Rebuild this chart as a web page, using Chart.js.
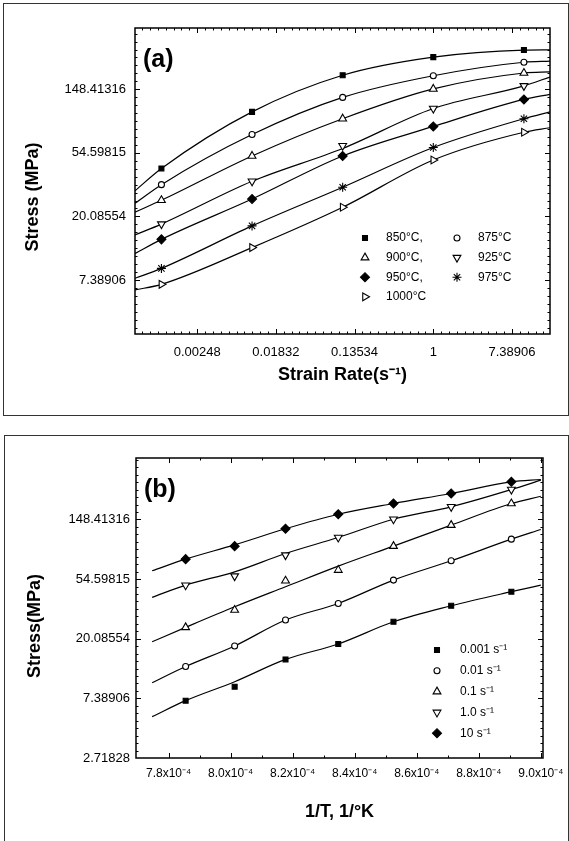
<!DOCTYPE html>
<html>
<head>
<meta charset="utf-8">
<title>Flow stress vs strain rate and inverse temperature</title>
<script src="https://cdn.jsdelivr.net/npm/chart.js@4.4.0/dist/chart.umd.min.js"></script>
<style>
    html, body { margin: 0; padding: 0; background: #fff; }
    #page { position: relative; width: 569px; height: 841px; overflow: hidden; }
    .panel { position: absolute; border: 1px solid #333; box-sizing: border-box; }
    #panelA { left: 3px; top: 3px; width: 566px; height: 413px; }
    #panelB { left: 4px; top: 435px; width: 565px; height: 430px; }
    canvas { position: absolute; left: 0; }
    #chartA { top: 0; }
    #chartB { top: 420px; }
</style>
</head>
<body>
<div id="page">
    <div class="panel" id="panelA"></div>
    <div class="panel" id="panelB"></div>
    <canvas id="chartA" width="569" height="420"></canvas>
    <canvas id="chartB" width="610" height="421"></canvas>
</div>
<script>
/**
 * Two-panel plot: (a) stress vs strain rate per temperature,
 * (b) stress vs 1/T per strain rate. Both on natural-log axes.
 */

const FONT = "'Liberation Sans', Arial, sans-serif";

// ---- Panel (a): measured stress (MPa) at each strain rate (1/s) ----
const strainRates = [0.001, 0.01, 0.1, 1, 10];
const temperatureLabels = ['850°C,', '875°C', '900°C,', '925°C', '950°C,', '975°C', '1000°C'];
const stress850 = [42.7, 104, 185, 246, 275];
const stress875 = [33.1, 72.8, 130.6, 183.6, 227];
const stress900 = [25.9, 52.0, 93.4, 149.2, 191.6];
const stress925 = [17.8, 34.9, 61.1, 109.6, 156.5];
const stress950 = [14.0, 26.4, 52.0, 82.7, 126.5];
const stress975 = [8.87, 17.3, 31.8, 59.4, 93.4];
const stress1000 = [6.90, 12.3, 23.2, 48.8, 75.5];
// fitted curves, read at: left frame, the five rates, right frame
const fitRatesX = [0.000511, 0.001, 0.01, 0.1, 1, 10, 19.4];
const fit850 = [30.1, 42.7, 104, 185, 246, 275, 276];
const fit875 = [24.7, 33.1, 72.8, 130.6, 183.6, 227, 231];
const fit900 = [21.5, 25.9, 52.0, 93.4, 149.2, 191.6, 195];
const fit925 = [15.0, 17.8, 34.9, 58.5, 109.6, 156.5, 180];
const fit950 = [11.2, 14.0, 26.4, 52.0, 82.7, 126.5, 137];
const fit975 = [7.59, 8.87, 17.3, 31.8, 59.4, 93.4, 104];
const fit1000 = [6.32, 6.90, 12.3, 23.2, 48.8, 75.5, 81];
const rateTicks = [0.0024788, 0.0183156, 0.1353353, 1, 7.3890561];
const rateTickLabels = ['0.00248', '0.01832', '0.13534', '1', '7.38906'];
const stressTicksA = [7.3890561, 20.0855369, 54.5981500, 148.4131591];
const stressTickLabelsA = ['7.38906', '20.08554', '54.59815', '148.41316'];

// ---- Panel (b): measured stress (MPa) at each 1/T (1/K), 1000°C ... 850°C ----
const inverseTemps = [7.855e-4, 8.013e-4, 8.177e-4, 8.347e-4, 8.525e-4, 8.711e-4, 8.905e-4];
const rateLabels = ['0.001 s⁻¹', '0.01 s⁻¹', '0.1 s⁻¹', '1.0 s⁻¹', '10 s⁻¹'];
const stressRate0001 = [7.11, 8.99, 14.2, 18.4, 26.7, 34.9, 44.2];
const stressRate001 = [12.6, 17.8, 27.5, 36.3, 53.7, 74.2, 106.7];
const stressRate01 = [24.3, 32.5, 53.1, 63.5, 94.9, 135, 194];
const stressRate1 = [49.3, 57.4, 81.6, 109.7, 149, 183.5, 245];
const stressRate10 = [76.3, 94.9, 127, 162, 194, 229.5, 279];
// fitted curves, read at: line start, the seven 1/T values, right frame
const fitInvTempX = [7.747e-4, 7.855e-4, 8.013e-4, 8.177e-4, 8.347e-4, 8.525e-4, 8.711e-4, 8.905e-4, 9.0e-4];
const fitRate0001 = [5.44, 7.11, 9.77, 14.2, 18.4, 26.7, 34.9, 44.2, 49.3];
const fitRate001 = [9.6, 12.6, 17.8, 27.5, 36.3, 53.7, 74.2, 106.7, 125.5];
const fitRate01 = [19.1, 24.3, 34.3, 48.0, 67.9, 94.9, 135, 194, 219];
const fitRate1 = [40.2, 49.3, 61.7, 83.9, 109.7, 149, 183.5, 245, 287];
const fitRate10 = [62.8, 76.3, 97, 127, 162, 194, 229.5, 279, 290];
const invTempTicks = [7.8e-4, 8.0e-4, 8.2e-4, 8.4e-4, 8.6e-4, 8.8e-4, 9.0e-4];
const invTempTickLabels = ['7.8x10⁻⁴', '8.0x10⁻⁴', '8.2x10⁻⁴', '8.4x10⁻⁴', '8.6x10⁻⁴', '8.8x10⁻⁴', '9.0x10⁻⁴'];
const stressTicksB = [2.7182818, 7.3890561, 20.0855369, 54.5981500, 148.4131591];
const stressTickLabelsB = ['2.71828', '7.38906', '20.08554', '54.59815', '148.41316'];

// marker look for each series, in the same order as the labels
const markersA = [
    { style: 'rect', radius: 3.5, filled: true },
    { style: 'circle', radius: 3, filled: false },
    { style: 'triangle', radius: 4.5, filled: false },
    { style: 'triangle', radius: 4.5, filled: false, rotation: 180 },
    { style: 'rectRot', radius: 4.5, filled: true },
    { style: 'star', radius: 4.5, filled: false },
    { style: 'triangle', radius: 4.5, filled: false, rotation: 90 }
];
const markersB = [
    { style: 'rect', radius: 3.5, filled: true },
    { style: 'circle', radius: 3, filled: false },
    { style: 'triangle', radius: 4.5, filled: false },
    { style: 'triangle', radius: 4.5, filled: false, rotation: 180 },
    { style: 'rectRot', radius: 4.5, filled: true }
];

document.addEventListener('DOMContentLoaded', function() {
    Chart.register(plotDecorations);
    initializeStrainRateChart();
    initializeInverseTempChart();
});

/**
 * Minor tick values every `step` natural-log units inside [min, max]
 */
function lnMinorTicks(min, max, step) {
    const out = [];
    for (let k = Math.ceil(Math.log(min) / step); k * step <= Math.log(max); k++) {
        out.push(Math.exp(k * step));
    }
    return out;
}

/**
 * Fit curve + marker dataset for each series
 */
function buildDatasets(xs, seriesList, fitX, fitList, labels, markers) {
    const datasets = [];
    seriesList.forEach((ys, i) => {
        datasets.push({
            label: labels[i] + ' fit',
            data: fitX.map((x, k) => ({ x: x, y: fitList[i][k] })),
            showLine: true,
            borderColor: '#000',
            borderWidth: 1.2,
            pointRadius: 0,
            cubicInterpolationMode: 'monotone',
            isFit: true,
            order: 1
        });
        const m = markers[i];
        datasets.push({
            label: labels[i],
            data: xs.map((x, k) => ({ x: x, y: ys[k] })),
            showLine: false,
            pointStyle: m.style,
            pointRotation: m.rotation || 0,
            pointRadius: m.radius,
            pointBackgroundColor: m.filled ? '#000' : '#fff',
            pointBorderColor: '#000',
            pointBorderWidth: 1.1,
            order: 0
        });
    });
    return datasets;
}

/**
 * Plot frame with inward ticks on all sides, panel tag, y title and legend
 */
const plotDecorations = {
    id: 'plotDecorations',
    afterDraw(chart, args, opts) {
        if (!opts || !opts.tag) return;
        const ctx = chart.ctx;
        const area = chart.chartArea;
        const xScale = chart.scales.x;
        const yScale = chart.scales.y;

        ctx.save();
        ctx.strokeStyle = '#000';
        ctx.lineWidth = 1.5;
        ctx.strokeRect(area.left, area.top, area.right - area.left, area.bottom - area.top);

        // tick marks
        ctx.lineWidth = 1;
        ctx.beginPath();
        const tickX = (v, len) => {
            const px = Math.round(xScale.getPixelForValue(v)) + 0.5;
            if (px < area.left || px > area.right) return;
            ctx.moveTo(px, area.bottom); ctx.lineTo(px, area.bottom - len);
            ctx.moveTo(px, area.top); ctx.lineTo(px, area.top + len);
        };
        const tickY = (v, len) => {
            const py = Math.round(yScale.getPixelForValue(v)) + 0.5;
            if (py < area.top || py > area.bottom) return;
            ctx.moveTo(area.left, py); ctx.lineTo(area.left + len, py);
            ctx.moveTo(area.right, py); ctx.lineTo(area.right - len, py);
        };
        opts.xMinor.forEach(v => tickX(v, 2.5));
        opts.yMinor.forEach(v => tickY(v, 2.5));
        xScale.ticks.forEach(t => tickX(t.value, 5));
        yScale.ticks.forEach(t => tickY(t.value, 5));
        ctx.stroke();

        // panel tag
        ctx.fillStyle = '#000';
        ctx.textAlign = 'left';
        ctx.textBaseline = 'middle';
        ctx.font = 'bold 25px ' + FONT;
        ctx.fillText(opts.tag, area.left + 8, area.top + 32);

        // legend, built from the marker datasets
        const lg = opts.legend;
        const drawPoint = Chart.helpers && Chart.helpers.drawPoint;
        ctx.font = '12px ' + FONT;
        chart.data.datasets.filter(ds => !ds.isFit).forEach((ds, i) => {
            const col = i % lg.columns;
            const row = Math.floor(i / lg.columns);
            const mx = area.left + lg.left + col * lg.colWidth;
            const my = area.top + lg.top + row * lg.rowHeight;
            ctx.fillStyle = ds.pointBackgroundColor;
            ctx.strokeStyle = '#000';
            ctx.lineWidth = 1.1;
            if (drawPoint) {
                drawPoint(ctx, {
                    pointStyle: ds.pointStyle,
                    rotation: ds.pointRotation,
                    radius: ds.pointRadius,
                    borderWidth: 1.1
                }, mx, my);
            } else {
                ctx.fillRect(mx - 3, my - 3, 6, 6);
            }
            ctx.fillStyle = '#000';
            ctx.fillText(ds.label, mx + lg.textGap, my);
        });

        // rotated y axis title
        ctx.font = 'bold 18px ' + FONT;
        ctx.textAlign = 'center';
        ctx.translate(opts.yTitleX, (area.top + area.bottom) / 2 + opts.yTitleShift);
        ctx.rotate(-Math.PI / 2);
        ctx.fillText(opts.yTitle, 0, 0);
        ctx.restore();
    }
};

/**
 * Panel (a): stress vs strain rate
 */
function initializeStrainRateChart() {
    const ctx = document.getElementById('chartA');
    if (!ctx) return;

    const xRange = [fitRatesX[0], fitRatesX[fitRatesX.length - 1]];
    const yRange = [3.16, 389];
    const datasets = buildDatasets(
        strainRates,
        [stress850, stress875, stress900, stress925, stress950, stress975, stress1000],
        fitRatesX,
        [fit850, fit875, fit900, fit925, fit950, fit975, fit1000],
        temperatureLabels, markersA
    );

    new Chart(ctx, {
        type: 'scatter',
        data: { datasets: datasets },
        options: {
            responsive: false,
            animation: false,
            devicePixelRatio: 1,
            layout: { padding: { left: 0, top: 28, right: 19, bottom: 34 } },
            plugins: {
                legend: { display: false },
                tooltip: { enabled: false },
                plotDecorations: {
                    tag: '(a)',
                    yTitle: 'Stress (MPa)',
                    yTitleX: 33,
                    yTitleShift: 16,
                    xMinor: lnMinorTicks(xRange[0], xRange[1], 0.2),
                    yMinor: lnMinorTicks(yRange[0], yRange[1], 0.125),
                    legend: { left: 230, top: 210, columns: 2, colWidth: 92, rowHeight: 19.6, textGap: 21 }
                }
            },
            scales: {
                x: {
                    type: 'logarithmic',
                    min: xRange[0],
                    max: xRange[1],
                    grid: { display: false, drawTicks: false },
                    border: { display: false },
                    afterBuildTicks: scale => { scale.ticks = rateTicks.map(v => ({ value: v })); },
                    afterFit: scale => { scale.height = 52; },
                    ticks: {
                        autoSkip: false,
                        maxRotation: 0,
                        padding: 11,
                        color: '#000',
                        font: { family: FONT, size: 13 },
                        callback: (value, index) => rateTickLabels[index]
                    },
                    title: {
                        display: true,
                        text: 'Strain Rate(s⁻¹)',
                        color: '#000',
                        padding: 0,
                        font: { family: FONT, size: 18, weight: 'bold' }
                    }
                },
                y: {
                    type: 'logarithmic',
                    min: yRange[0],
                    max: yRange[1],
                    grid: { display: false, drawTicks: false },
                    border: { display: false },
                    afterBuildTicks: scale => { scale.ticks = stressTicksA.map(v => ({ value: v })); },
                    afterFit: scale => { scale.width = 135; },
                    ticks: {
                        autoSkip: false,
                        padding: 9,
                        color: '#000',
                        font: { family: FONT, size: 13 },
                        callback: (value, index) => stressTickLabelsA[index]
                    }
                }
            }
        }
    });
}

/**
 * Panel (b): stress vs inverse temperature
 */
function initializeInverseTempChart() {
    const ctx = document.getElementById('chartB');
    if (!ctx) return;

    const xRange = [7.695e-4, 9.007e-4];
    const yRange = [2.7182818, 416];
    const datasets = buildDatasets(
        inverseTemps,
        [stressRate0001, stressRate001, stressRate01, stressRate1, stressRate10],
        fitInvTempX,
        [fitRate0001, fitRate001, fitRate01, fitRate1, fitRate10],
        rateLabels, markersB
    );

    // one minor tick halfway between the labelled ones
    const xMinor = invTempTicks.slice(0, -1).map((v, i) => (v + invTempTicks[i + 1]) / 2);

    new Chart(ctx, {
        type: 'scatter',
        data: { datasets: datasets },
        options: {
            responsive: false,
            animation: false,
            devicePixelRatio: 1,
            layout: { padding: { left: 0, top: 38, right: 67, bottom: 18 } },
            plugins: {
                legend: { display: false },
                tooltip: { enabled: false },
                plotDecorations: {
                    tag: '(b)',
                    yTitle: 'Stress(MPa)',
                    yTitleX: 35,
                    yTitleShift: 18,
                    xMinor: xMinor,
                    yMinor: lnMinorTicks(yRange[0], yRange[1], 0.125),
                    legend: { left: 301, top: 192, columns: 1, colWidth: 0, rowHeight: 20.8, textGap: 23 }
                }
            },
            scales: {
                x: {
                    type: 'linear',
                    min: xRange[0],
                    max: xRange[1],
                    grid: { display: false, drawTicks: false },
                    border: { display: false },
                    afterBuildTicks: scale => { scale.ticks = invTempTicks.map(v => ({ value: v })); },
                    afterFit: scale => { scale.height = 65; },
                    ticks: {
                        autoSkip: false,
                        maxRotation: 0,
                        padding: 8,
                        color: '#000',
                        font: { family: FONT, size: 12 },
                        callback: (value, index) => invTempTickLabels[index]
                    },
                    title: {
                        display: true,
                        text: '1/T, 1/°K',
                        color: '#000',
                        padding: 0,
                        font: { family: FONT, size: 18, weight: 'bold' }
                    }
                },
                y: {
                    type: 'logarithmic',
                    min: yRange[0],
                    max: yRange[1],
                    grid: { display: false, drawTicks: false },
                    border: { display: false },
                    afterBuildTicks: scale => { scale.ticks = stressTicksB.map(v => ({ value: v })); },
                    afterFit: scale => { scale.width = 136; },
                    ticks: {
                        autoSkip: false,
                        padding: 6,
                        color: '#000',
                        font: { family: FONT, size: 13 },
                        callback: (value, index) => stressTickLabelsB[index]
                    }
                }
            }
        }
    });
}
</script>
</body>
</html>
